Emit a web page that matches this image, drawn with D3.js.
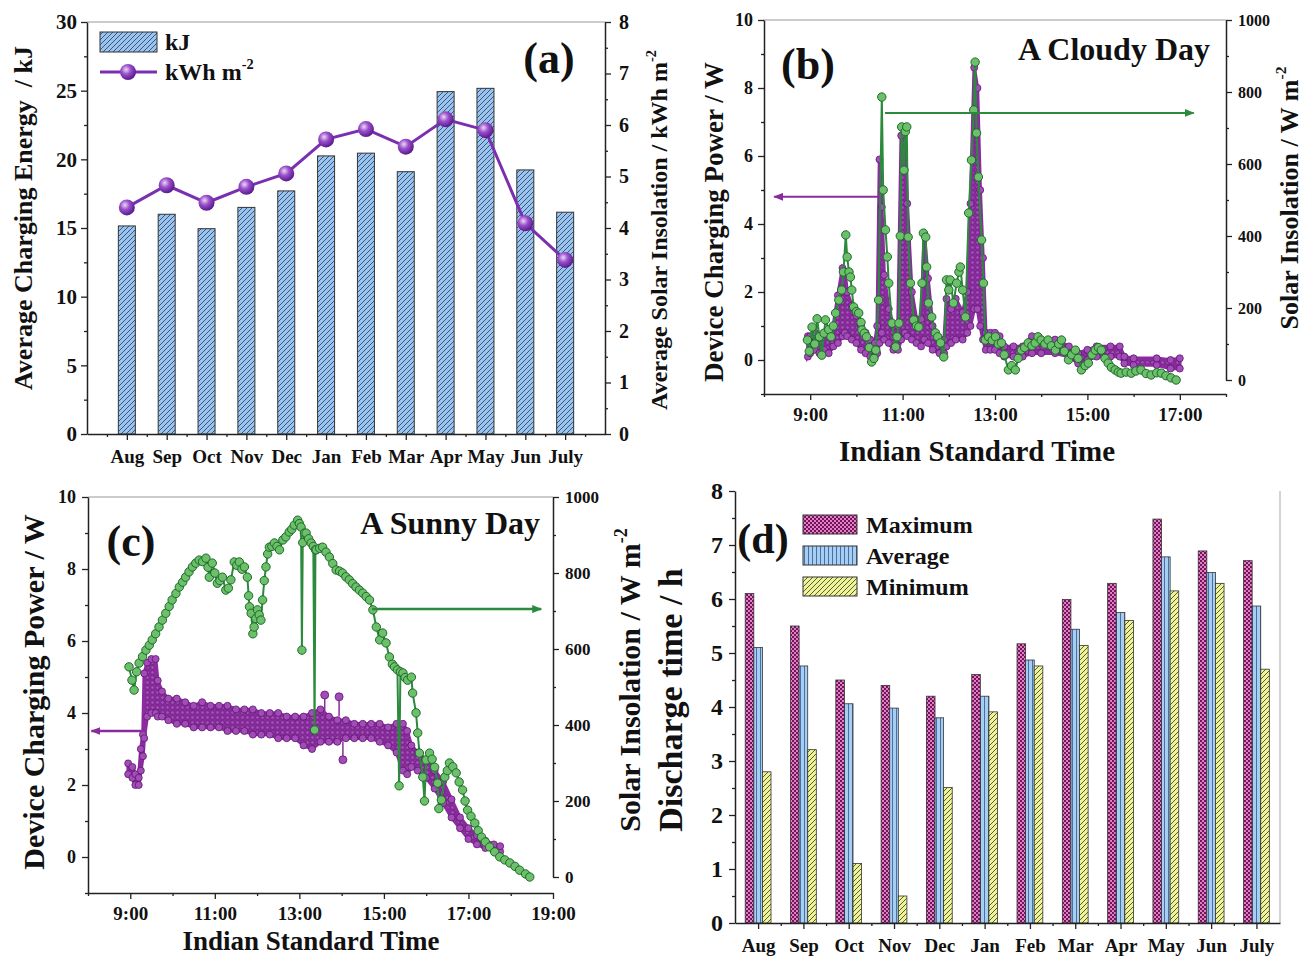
<!DOCTYPE html>
<html><head><meta charset="utf-8">
<script src="https://cdn.jsdelivr.net/npm/d3@7"></script>
<style>body{margin:0;background:#fff}</style>
</head><body>
<svg id="c" width="1306" height="961"></svg>
<script>
// ---------------- DATA ----------------
const months = ["Aug","Sep","Oct","Nov","Dec","Jan","Feb","Mar","Apr","May","Jun","July"];
// Panel (a)
const chargingEnergyKJ = [15.15,16.0,14.95,16.5,17.7,20.25,20.45,19.1,24.93,25.17,19.23,16.15];
const insolationKWh = [4.40,4.83,4.49,4.80,5.06,5.72,5.92,5.58,6.11,5.90,4.09,3.38];
const aLeftTicks = [0,5,10,15,20,25,30];
const aRightTicks = [0,1,2,3,4,5,6,7,8];
// Panel (d)
const dischargeMax = [6.1,5.5,4.5,4.4,4.2,4.6,5.17,5.99,6.29,7.48,6.89,6.71];
const dischargeAvg = [5.1,4.76,4.06,3.98,3.8,4.2,4.87,5.44,5.75,6.78,6.49,5.87];
const dischargeMin = [2.8,3.21,1.1,0.5,2.51,3.91,4.76,5.14,5.6,6.15,6.29,4.7];
const dTicks = [0,1,2,3,4,5,6,7,8];
const legendD = ["Maximum","Average","Minimum"];
// Time axes
const timeTicksB = [9,11,13,15,17];
const timeTicksC = [9,11,13,15,17,19];
const powerTicks = [0,2,4,6,8,10];
const insolTicks = [0,200,400,600,800,1000];
// Panel (b): a cloudy day. power band [hour, low, high] (W); insolation [hour, W m-2]
const cloudyPower = [
 [8.95,0.1,0.7],[9.0,0.2,0.7],[9.1,0.3,0.8],[9.2,0.2,0.7],[9.3,0.3,0.8],[9.4,0.2,0.8],[9.5,0.4,1.0],
 [9.6,0.5,1.9],[9.7,0.7,2.7],[9.75,0.8,2.6],[9.8,0.7,2.0],[9.9,0.6,1.6],[10.0,0.5,1.3],[10.1,0.3,1.0],
 [10.2,0.2,0.8],[10.3,0.1,0.6],[10.4,0.1,0.5],[10.45,0.2,1.0],[10.5,0.5,5.9],[10.55,0.8,4.5],[10.6,0.6,2.5],
 [10.7,0.5,1.5],[10.8,0.3,1.0],[10.9,0.3,1.0],[10.97,0.6,6.6],[11.05,0.8,6.8],[11.1,0.7,4.6],[11.2,0.6,2.0],
 [11.3,0.5,1.2],[11.4,0.4,1.2],[11.47,0.6,3.7],[11.55,0.5,2.4],[11.65,0.3,1.0],[11.8,0.2,0.6],[11.9,0.2,0.6],
 [11.95,0.4,1.8],[12.05,0.5,1.5],[12.15,0.6,1.8],[12.3,0.6,1.4],[12.4,0.8,2.0],[12.47,1.0,4.6],[12.55,1.5,8.6],
 [12.62,1.5,8.0],[12.68,1.0,5.0],[12.74,0.6,3.0],[12.8,0.3,0.8],[12.9,0.3,0.8],[13.0,0.3,0.8],[13.1,0.2,0.7],
 [13.2,0.1,0.4],[13.4,0.1,0.4],[13.6,0.1,0.4],[13.8,0.2,0.7],[14.0,0.2,0.6],[14.3,0.2,0.6],[14.6,0.1,0.4],
 [14.8,-0.1,0.2],[15.0,0.0,0.3],[15.2,0.1,0.4],[15.5,0.1,0.4],[15.7,0.1,0.4],[15.8,-0.1,0.1],[16.0,-0.15,0.05],
 [16.5,-0.15,0.05],[16.8,-0.25,0.0],[17.0,-0.25,0.05]
];
const cloudyInsolation = [
 [8.94,111],[8.98,80],[9.04,147],[9.1,100],[9.15,170],[9.2,120],[9.25,69],[9.3,130],[9.33,167],[9.4,140],
 [9.45,120],[9.5,150],[9.55,186],[9.62,222],[9.68,250],[9.72,300],[9.77,403],[9.8,342],[9.84,300],[9.87,286],
 [9.9,250],[9.94,203],[10.0,190],[10.05,186],[10.1,160],[10.12,139],[10.17,130],[10.22,120],[10.28,90],[10.33,50],
 [10.38,60],[10.42,83],[10.48,222],[10.55,786],[10.58,528],[10.63,417],[10.67,342],[10.7,269],[10.77,158],[10.85,92],
 [10.88,120],[10.92,158],[10.95,400],[10.98,703],[11.03,583],[11.06,690],[11.09,703],[11.12,397],[11.17,269],[11.24,167],
 [11.3,150],[11.35,147],[11.42,269],[11.45,408],[11.5,397],[11.52,314],[11.56,214],[11.63,175],[11.71,131],[11.76,120],
 [11.82,103],[11.89,64],[11.95,278],[12.0,250],[12.03,278],[12.1,214],[12.17,269],[12.22,300],[12.25,314],[12.3,250],
 [12.36,175],[12.43,464],[12.49,611],[12.54,750],[12.57,883],[12.6,686],[12.64,564],[12.71,389],[12.75,269],[12.79,111],
 [12.86,120],[12.94,110],[13.01,120],[13.07,100],[13.14,103],[13.2,70],[13.29,28],[13.36,40],[13.44,28],[13.5,60],
 [13.57,83],[13.64,90],[13.72,103],[13.8,95],[13.87,103],[13.93,120],[14.0,111],[14.08,100],[14.15,111],[14.22,95],
 [14.31,83],[14.38,100],[14.44,111],[14.5,80],[14.59,56],[14.66,70],[14.74,83],[14.8,60],[14.87,28],[14.95,40],
 [15.02,47],[15.1,70],[15.17,83],[15.24,90],[15.3,83],[15.38,60],[15.45,47],[15.52,35],[15.6,28],[15.67,22],
 [15.73,19],[15.84,22],[15.95,19],[16.05,25],[16.16,28],[16.27,18],[16.38,14],[16.5,20],[16.6,19],[16.7,12],
 [16.81,6],[16.92,0]
];
// Panel (c): a sunny day
const sunnyPower = [
 [8.95,2.3,2.6],[9.05,2.2,2.5],[9.12,2.0,2.3],[9.2,2.0,2.2],[9.25,2.4,3.0],[9.3,2.8,3.4],[9.33,3.3,5.1],
 [9.4,3.9,5.4],[9.5,4.0,5.5],[9.6,4.0,5.5],[9.65,3.9,4.9],[9.75,3.9,4.6],[9.9,3.8,4.4],[10.1,3.7,4.4],
 [10.3,3.7,4.3],[10.5,3.6,4.2],[10.7,3.6,4.3],[10.9,3.6,4.2],[11.1,3.6,4.2],[11.3,3.5,4.2],[11.5,3.5,4.1],
 [11.7,3.5,4.1],[11.9,3.4,4.1],[12.1,3.4,4.0],[12.3,3.4,4.0],[12.5,3.3,4.0],[12.7,3.3,3.9],[12.9,3.3,3.9],
 [13.1,3.1,3.9],[13.3,3.0,4.0],[13.5,3.2,4.1],[13.7,3.2,3.9],[13.9,3.2,3.8],[14.1,3.3,3.8],[14.3,3.3,3.7],
 [14.5,3.3,3.7],[14.7,3.3,3.7],[14.9,3.2,3.7],[15.1,3.1,3.6],[15.3,2.9,3.7],[15.45,2.4,3.7],[15.55,2.3,3.5],
 [15.65,2.5,3.1],[15.8,2.4,2.9],[16.0,2.2,2.7],[16.2,1.9,2.4],[16.4,1.5,2.1],[16.6,1.1,1.6],[16.8,0.8,1.1],
 [17.0,0.5,0.8],[17.2,0.35,0.6],[17.4,0.25,0.45],[17.6,0.2,0.35],[17.75,0.15,0.3]
];
const sunnyPowerOutliers = [[13.6,3.9,4.5],[13.94,3.9,4.45],[14.03,3.2,2.7]];
const sunnyInsolation = [
 [8.97,553],[9.04,518],[9.09,492],[9.15,540],[9.21,563],[9.29,580],[9.37,597],[9.45,610],[9.52,624],[9.6,640],
 [9.68,658],[9.76,676],[9.84,694],[9.92,712],[9.99,729],[10.08,746],[10.16,763],[10.24,776],[10.31,789],[10.39,803],
 [10.47,816],[10.55,826],[10.63,834],[10.71,830],[10.79,839],[10.84,815],[10.87,789],[10.94,826],[11.0,800],[11.06,773],
 [11.12,780],[11.18,789],[11.26,755],[11.32,760],[11.38,782],[11.46,829],[11.52,820],[11.58,829],[11.64,810],[11.7,816],
 [11.77,789],[11.8,740],[11.82,711],[11.86,694],[11.9,640],[11.93,658],[11.97,680],[12.01,703],[12.05,690],[12.09,676],
 [12.13,729],[12.17,780],[12.21,816],[12.25,850],[12.29,868],[12.35,870],[12.41,879],[12.47,870],[12.53,861],[12.61,887],
 [12.68,895],[12.76,908],[12.82,915],[12.88,926],[12.96,939],[13.0,930],[13.04,921],[13.06,597],[13.08,880],[13.12,905],
 [13.16,905],[13.22,890],[13.28,879],[13.33,870],[13.36,387],[13.38,861],[13.4,861],[13.48,865],[13.55,868],[13.63,855],
 [13.71,842],[13.79,825],[13.87,808],[13.95,805],[14.02,800],[14.1,790],[14.18,782],[14.26,772],[14.34,763],[14.42,755],
 [14.5,747],[14.58,738],[14.66,729],[14.74,703],[14.82,658],[14.9,624],[14.97,642],[15.05,616],[15.13,579],[15.2,560],
 [15.25,553],[15.32,545],[15.36,240],[15.39,540],[15.45,537],[15.5,525],[15.56,518],[15.65,526],[15.68,484],[15.76,432],
 [15.8,379],[15.84,326],[15.92,263],[15.96,200],[16.0,308],[16.08,326],[16.14,310],[16.2,289],[16.27,247],[16.3,180],
 [16.36,203],[16.44,263],[16.5,280],[16.55,300],[16.63,290],[16.71,274],[16.78,250],[16.86,229],[16.92,200],[16.98,176],
 [17.06,160],[17.15,142],[17.23,122],[17.31,105],[17.4,92],[17.5,79],[17.62,66],[17.74,53],[17.86,45],[17.98,37],
 [18.1,28],[18.21,18],[18.35,8],[18.45,0]
];

// ---------------- DRAW ----------------
const FONT = '"Liberation Serif","Times New Roman",serif';
const svg = d3.select("#c");
const defs = svg.append("defs");
const PURPLE = "#8a2c9e", PURPLE_D = "#5f1475", GREEN = "#2b8a3c", GREEN_L = "#6cc06a";

function pattern(id, w, h, bg, draw) {
  const p = defs.append("pattern").attr("id", id).attr("patternUnits","userSpaceOnUse").attr("width",w).attr("height",h);
  p.append("rect").attr("width",w).attr("height",h).attr("fill",bg);
  draw(p);
}
pattern("hatchA",5,5,"#9cc3e8",p=>p.append("path").attr("d","M-1,1 L1,-1 M0,5 L5,0 M4,6 L6,4").attr("stroke","#27498a").attr("stroke-width",0.9));
pattern("checkMax",4,4,"#e47cc8",p=>{p.append("rect").attr("width",2).attr("height",2).attr("fill","#6e1858");p.append("rect").attr("x",2).attr("y",2).attr("width",2).attr("height",2).attr("fill","#6e1858");});
pattern("vertAvg",4,4,"#a8cdf2",p=>p.append("path").attr("d","M0.5,0 V4").attr("stroke","#3b6797").attr("stroke-width",0.9));
pattern("hatchMin",5,5,"#eef29c",p=>p.append("path").attr("d","M-1,1 L1,-1 M0,5 L5,0 M4,6 L6,4").attr("stroke","#5b6122").attr("stroke-width",1));
pattern("dotsP",5,5,PURPLE,p=>p.append("circle").attr("cx",2.5).attr("cy",2.5).attr("r",1.8).attr("fill","#a450b6").attr("stroke",PURPLE_D).attr("stroke-width",0.5));
const rg = defs.append("radialGradient").attr("id","sphere").attr("cx","38%").attr("cy","35%").attr("r","65%");
rg.append("stop").attr("offset","0%").attr("stop-color","#ecd8f5");
rg.append("stop").attr("offset","45%").attr("stop-color","#9a50cc");
rg.append("stop").attr("offset","100%").attr("stop-color","#5a1a8e");
function marker(id, color) {
  defs.append("marker").attr("id",id).attr("viewBox","0 0 10 8").attr("refX",9).attr("refY",4)
    .attr("markerWidth",10).attr("markerHeight",8).attr("markerUnits","userSpaceOnUse").attr("orient","auto")
    .append("path").attr("d","M0,0 L10,4 L0,8 Z").attr("fill",color);
}
marker("arrP", PURPLE); marker("arrG", GREEN);

function styleAxis(g, fs) {
  g.attr("font-family", FONT).attr("font-size", fs).attr("font-weight","bold");
  g.select(".domain").attr("stroke","#222").attr("stroke-width",1.5);
  g.selectAll(".tick line").attr("stroke","#222").attr("stroke-width",1.3);
  g.selectAll(".tick text").attr("fill","#111");
}
function axis(axisFn, scale, majors, minors, fmt, fs, tr, pad) {
  if (minors) {
    const gm = svg.append("g").attr("transform",tr).call(axisFn(scale).tickValues(minors).tickSize(3).tickSizeOuter(0).tickFormat(""));
    gm.select(".domain").remove(); styleAxis(gm, fs);
  }
  const g = svg.append("g").attr("transform",tr).call(axisFn(scale).tickValues(majors).tickSize(6).tickSizeOuter(0).tickPadding(pad).tickFormat(fmt));
  styleAxis(g, fs);
  return g;
}
function label(x, y, txt, fs, opts={}) {
  const t = svg.append("text").attr("font-family",FONT).attr("font-weight","bold").attr("font-size",fs)
    .attr("fill","#111").attr("text-anchor",opts.anchor||"middle").style("white-space","pre")
    .attr("transform",`translate(${x},${y})` + (opts.rot ? ` rotate(${opts.rot})` : ""));
  t.append("tspan").text(txt);
  if (opts.sup) t.append("tspan").attr("dy",-fs*0.45).attr("font-size",fs*0.6).text(opts.sup);
  return t;
}
function hline(x1,x2,y,color,w){return svg.append("line").attr("x1",x1).attr("x2",x2).attr("y1",y).attr("y2",y).attr("stroke",color).attr("stroke-width",w||1);}
function vline(x,y1,y2,color){return svg.append("line").attr("x1",x).attr("x2",x).attr("y1",y1).attr("y2",y2).attr("stroke",color).attr("stroke-width",1);}
const range = (a,b,s)=>d3.range(a,b+s/2,s);

// ===== Panel (a) =====
{
  const x = d3.scaleLinear().domain([0,13]).range([87,605]);
  const yL = d3.scaleLinear().domain([0,30]).range([434,22]);
  const yR = d3.scaleLinear().domain([0,8]).range([434,22]);
  hline(87,605,22,"#999");
  svg.append("g").selectAll("rect").data(chargingEnergyKJ).join("rect")
    .attr("x",(d,i)=>x(i+1)-8.5).attr("width",17).attr("y",d=>yL(d)).attr("height",d=>yL(0)-yL(d))
    .attr("fill","url(#hatchA)").attr("stroke","#333").attr("stroke-width",1);
  svg.append("path").datum(insolationKWh).attr("fill","none").attr("stroke","#7a2fb0").attr("stroke-width",3)
    .attr("d",d3.line().x((d,i)=>x(i+1)).y(d=>yR(d)));
  svg.append("g").selectAll("circle").data(insolationKWh).join("circle")
    .attr("cx",(d,i)=>x(i+1)).attr("cy",d=>yR(d)).attr("r",8).attr("fill","url(#sphere)");
  axis(d3.axisLeft, yL, aLeftTicks, range(2.5,27.5,5), d3.format("d"), 21, "translate(87,0)", 4);
  axis(d3.axisRight, yR, aRightTicks, range(0.5,7.5,1), d3.format("d"), 20, "translate(605,0)", 8);
  axis(d3.axisBottom, x, d3.range(1,13), range(0.5,12.5,1), i=>months[i-1], 19, "translate(0,434)", 10);
  // legend
  svg.append("rect").attr("x",100).attr("y",32).attr("width",57).attr("height",20).attr("fill","url(#hatchA)").attr("stroke","#333");
  label(165,50,"kJ",24,{anchor:"start"});
  hline(100,157,72,"#7a2fb0",3);
  svg.append("circle").attr("cx",128).attr("cy",72).attr("r",8).attr("fill","url(#sphere)");
  label(165,80,"kWh m",24,{anchor:"start",sup:"-2"});
  label(549,73,"(a)",44);
  label(32,218,"Average Charging Energy  / kJ",26,{rot:-90});
  label(667,230,"Average Solar Insolation / kWh m",24,{rot:-90,sup:"-2"});
}

// ----- time-series panel helper -----
function timePanel(p) {
  const {x,yL,yR,power,insol,outliers} = p;
  const area = d3.area().x(d=>x(d[0])).y0(d=>yL(d[1])).y1(d=>yL(d[2]));
  svg.append("path").datum(power).attr("d",area).attr("fill","url(#dotsP)").attr("stroke",PURPLE).attr("stroke-width",3.5);
  const pts = power.flatMap(d=>[[d[0],d[1]],[d[0],d[2]]]);
  svg.append("g").selectAll("circle").data(pts).join("circle")
    .attr("cx",d=>x(d[0])).attr("cy",d=>yL(d[1])).attr("r",3.5)
    .attr("fill","#a24cb5").attr("stroke",PURPLE_D).attr("stroke-width",0.8);
  if (outliers) {
    svg.append("g").selectAll("line").data(outliers).join("line")
      .attr("x1",d=>x(d[0])).attr("x2",d=>x(d[0])).attr("y1",d=>yL(d[1])).attr("y2",d=>yL(d[2]))
      .attr("stroke",PURPLE).attr("stroke-width",1.5);
    svg.append("g").selectAll("circle").data(outliers).join("circle")
      .attr("cx",d=>x(d[0])).attr("cy",d=>yL(d[2])).attr("r",4)
      .attr("fill","#a24cb5").attr("stroke",PURPLE_D).attr("stroke-width",0.8);
  }
  svg.append("path").datum(insol).attr("fill","none").attr("stroke",GREEN).attr("stroke-width",2)
    .attr("d",d3.line().x(d=>x(d[0])).y(d=>yR(d[1])));
  svg.append("g").selectAll("circle").data(insol).join("circle")
    .attr("cx",d=>x(d[0])).attr("cy",d=>yR(d[1])).attr("r",4.2)
    .attr("fill",GREEN_L).attr("stroke","#1d6a2a").attr("stroke-width",1);
}
const timeFmt = d=>d+":00";

// ===== Panel (b) =====
{
  const x = d3.scaleLinear().domain([8,18]).range([764,1226]);
  const yL = d3.scaleLinear().domain([-1,10]).range([394,20]);
  const yR = d3.scaleLinear().domain([0,1000]).range([380,20]);
  hline(764,1226,20,"#999");
  timePanel({x,yL,yR,power:cloudyPower,insol:cloudyInsolation});
  svg.append("line").attr("x1",x(10.5)).attr("x2",x(8.22)).attr("y1",yL(4.8)).attr("y2",yL(4.8))
    .attr("stroke",PURPLE).attr("stroke-width",2).attr("marker-end","url(#arrP)");
  svg.append("line").attr("x1",x(10.62)).attr("x2",x(17.3)).attr("y1",yR(742)).attr("y2",yR(742))
    .attr("stroke",GREEN).attr("stroke-width",2).attr("marker-end","url(#arrG)");
  axis(d3.axisLeft, yL, powerTicks, range(-1,9,2), d3.format("d"), 18, "translate(764,0)", 5);
  axis(d3.axisRight, yR, insolTicks, range(100,900,200), d3.format("d"), 16, "translate(1226,0)", 6);
  axis(d3.axisBottom, x, timeTicksB, range(8,18,2), timeFmt, 19, "translate(0,394)", 8);
  label(808,79,"(b)",44);
  label(1210,60,"A Cloudy Day",32,{anchor:"end"});
  label(977,461,"Indian Standard Time",29);
  label(723,222,"Device Charging Power / W",27,{rot:-90});
  label(1298,198,"Solar Insolation / W m",26,{rot:-90,sup:"-2"});
}

// ===== Panel (c) =====
{
  const x = d3.scaleLinear().domain([8,19]).range([88,553]);
  const yL = d3.scaleLinear().domain([-1,10]).range([893,497]);
  const yR = d3.scaleLinear().domain([0,1000]).range([877,497]);
  hline(88,553,497,"#999");
  timePanel({x,yL,yR,power:sunnyPower,insol:sunnyInsolation,outliers:sunnyPowerOutliers});
  svg.append("line").attr("x1",x(9.35)).attr("x2",x(8.08)).attr("y1",yL(3.5)).attr("y2",yL(3.5))
    .attr("stroke",PURPLE).attr("stroke-width",2.5).attr("marker-end","url(#arrP)");
  svg.append("line").attr("x1",x(14.72)).attr("x2",x(18.72)).attr("y1",yR(705)).attr("y2",yR(705))
    .attr("stroke",GREEN).attr("stroke-width",2.5).attr("marker-end","url(#arrG)");
  axis(d3.axisLeft, yL, powerTicks, range(-1,9,2), d3.format("d"), 18, "translate(88,0)", 6);
  axis(d3.axisRight, yR, insolTicks, range(100,900,200), d3.format("d"), 17, "translate(553,0)", 6);
  axis(d3.axisBottom, x, timeTicksC, range(8,18,2), timeFmt, 19, "translate(0,893)", 8);
  label(131,556,"(c)",44);
  label(540,534,"A Sunny Day",32,{anchor:"end"});
  label(311,950,"Indian Standard Time",27);
  label(44,692,"Device Charging Power / W",30,{rot:-90});
  label(640,680,"Solar Insolation / W m",30,{rot:-90,sup:"-2"});
}

// ===== Panel (d) =====
{
  const x = d3.scaleLinear().domain([0.49,12.52]).range([735,1280]);
  const y = d3.scaleLinear().domain([0,8]).range([923,491]);
  vline(1280,491,923,"#aaa");
  const bw = 8.6;
  const series = [[dischargeMax,"url(#checkMax)",-1.5],[dischargeAvg,"url(#vertAvg)",-0.5],[dischargeMin,"url(#hatchMin)",0.5]];
  series.forEach(([vals,fill,off])=>{
    svg.append("g").selectAll("rect").data(vals).join("rect")
      .attr("x",(d,i)=>x(i+1)+off*bw).attr("width",bw).attr("y",d=>y(d)).attr("height",d=>y(0)-y(d))
      .attr("fill",fill).attr("stroke","#333").attr("stroke-width",0.8);
  });
  axis(d3.axisLeft, y, dTicks, range(0.5,7.5,1), d3.format("d"), 24, "translate(735,0)", 6);
  axis(d3.axisBottom, x, d3.range(1,13), range(1.5,11.5,1), i=>months[i-1], 19, "translate(0,923)", 10);
  const fills = ["url(#checkMax)","url(#vertAvg)","url(#hatchMin)"];
  legendD.forEach((t,i)=>{
    svg.append("rect").attr("x",803).attr("y",515+i*31).attr("width",54).attr("height",19).attr("fill",fills[i]).attr("stroke","#333");
    label(866,533+i*31,t,24,{anchor:"start"});
  });
  label(763,553,"(d)",42);
  label(682,700,"Discharge time / h",34,{rot:-90});
}
</script></body></html>
